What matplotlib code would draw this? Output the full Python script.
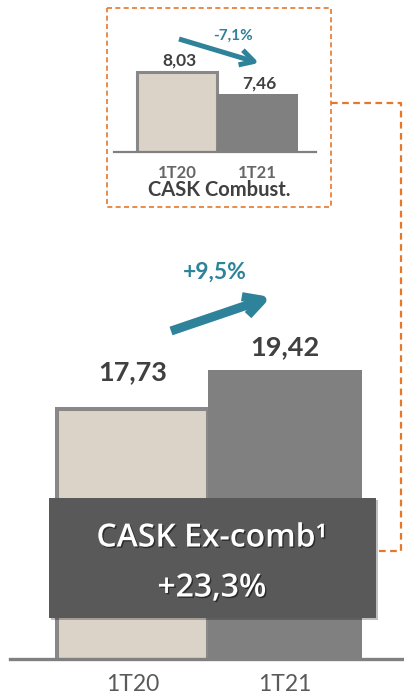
import matplotlib
matplotlib.use("Agg")
import matplotlib.pyplot as plt
import matplotlib.patheffects as pe
from matplotlib.patches import Rectangle

plt.rcParams['font.family'] = ['Lato', 'DejaVu Sans']

# data
periods = ['1T20', '1T21']
cask_ex_comb = [17.73, 19.42]
cask_combust = [8.03, 7.46]
main_change = '+9,5%'
inset_change = '-7,1%'
box_title = 'CASK Ex-comb¹'
box_change = '+23,3%'
inset_title = 'CASK Combust.'

teal = '#2e8299'
dark = '#404040'
beige = '#dbd2c8'
grey = '#808080'
orange = '#e5782a'

W, H = 404, 696
fig = plt.figure(figsize=(W / 100, H / 100), dpi=100)


def fmt(v):
    return f'{v:.2f}'.replace('.', ',')


# main chart
ax = fig.add_axes([10 / W, 37 / H, 394 / W, 359 / H])
ax.bar([0], cask_ex_comb[:1], width=0.99, color=beige, edgecolor='#888888', linewidth=2.9, zorder=2)
ax.bar([1], cask_ex_comb[1:], width=1.01, color=grey, linewidth=0, zorder=3)
ax.set_xlim(-0.803, 1.78)
ax.set_ylim(7.03, 22.42)
for s in ['top', 'right', 'left']:
    ax.spines[s].set_visible(False)
ax.spines['bottom'].set_color(grey)
ax.spines['bottom'].set_linewidth(2.4)
ax.spines['bottom'].set_zorder(4)
ax.set_yticks([])
ax.set_xticks([0, 1], periods, fontsize=16.5, color='#5a5a5a')
ax.tick_params(axis='x', length=0, pad=11)
for i, (v, off) in enumerate(zip(cask_ex_comb, [37, 23])):
    ax.annotate(fmt(v), (i, v), xytext=(0, off), textcoords='offset pixels',
                ha='center', va='center', fontsize=19.5, fontweight='bold', color=dark)

# inset chart
ix = fig.add_axes([114 / W, 544 / H, 202 / W, 92 / H])
ix.bar([0], cask_combust[:1], width=0.99, color=beige, edgecolor='#888888', linewidth=2.2, zorder=2)
ix.bar([1], cask_combust[1:], width=1.01, color=grey, linewidth=0, zorder=3)
ix.set_xlim(-0.783, 1.727)
ix.set_ylim(5.96, 8.34)
for s in ['top', 'right', 'left']:
    ix.spines[s].set_visible(False)
ix.spines['bottom'].set_color(grey)
ix.spines['bottom'].set_linewidth(1.6)
ix.spines['bottom'].set_zorder(4)
ix.set_yticks([])
ix.set_xticks([0, 1], periods, fontsize=12, fontweight='bold', color='#666666')
ix.tick_params(axis='x', length=0, pad=9)
for i, v in enumerate(cask_combust):
    ix.annotate(fmt(v), (i, v), xytext=(2, 11), textcoords='offset pixels',
                ha='center', va='center', fontsize=12.5, fontweight='bold', color=dark)

# overlay in pixel coordinates
ov = fig.add_axes([0, 0, 1, 1], zorder=5)
ov.set_xlim(0, W)
ov.set_ylim(H, 0)
ov.axis('off')
ov.patch.set_alpha(0)

ov.text(219, 190, inset_title, ha='center', va='center', fontsize=14.5, fontweight='bold', color=dark)
ov.text(233, 36, inset_change, ha='center', va='center', fontsize=11, fontweight='bold', color=teal)
ov.annotate('', xy=(259, 63), xytext=(179, 39),
            arrowprops=dict(arrowstyle='->,head_length=1.0,head_width=0.55', lw=3.6, color=teal,
                            shrinkA=0, shrinkB=0, capstyle='butt'))

ov.text(215, 272, main_change, ha='center', va='center', fontsize=16.5, fontweight='bold', color=teal)
ov.annotate('', xy=(271, 297), xytext=(171, 331),
            arrowprops=dict(arrowstyle='->,head_length=1.3,head_width=0.7', lw=6.5, color=teal,
                            shrinkA=0, shrinkB=0, capstyle='butt'))

# dashed inset frame and connector
ov.add_patch(Rectangle((107, 8), 224, 199, fill=False, ec=orange, lw=1.2, ls=(0, (3, 2))))
ov.plot([331, 401, 401, 377], [103, 103, 551, 551], color=orange, lw=1.6, ls=(0, (3, 2)))

# dark summary box
ov.add_patch(Rectangle((51, 500), 327, 120, color='black', alpha=0.25, lw=0))
ov.add_patch(Rectangle((49, 498), 327, 120, color='#595959', lw=0))
shadow = [pe.withSimplePatchShadow(offset=(1, -1), shadow_rgbFace='black', alpha=0.5)]
ov.text(212, 538, box_title, ha='center', va='center', fontsize=23, color='white',
        family=['Open Sans', 'DejaVu Sans'], fontweight='semibold', path_effects=shadow)
ov.text(212, 588, box_change, ha='center', va='center', fontsize=23, color='white',
        family=['Open Sans', 'DejaVu Sans'], fontweight='semibold', path_effects=shadow)

fig.savefig('out.png', dpi=100)
